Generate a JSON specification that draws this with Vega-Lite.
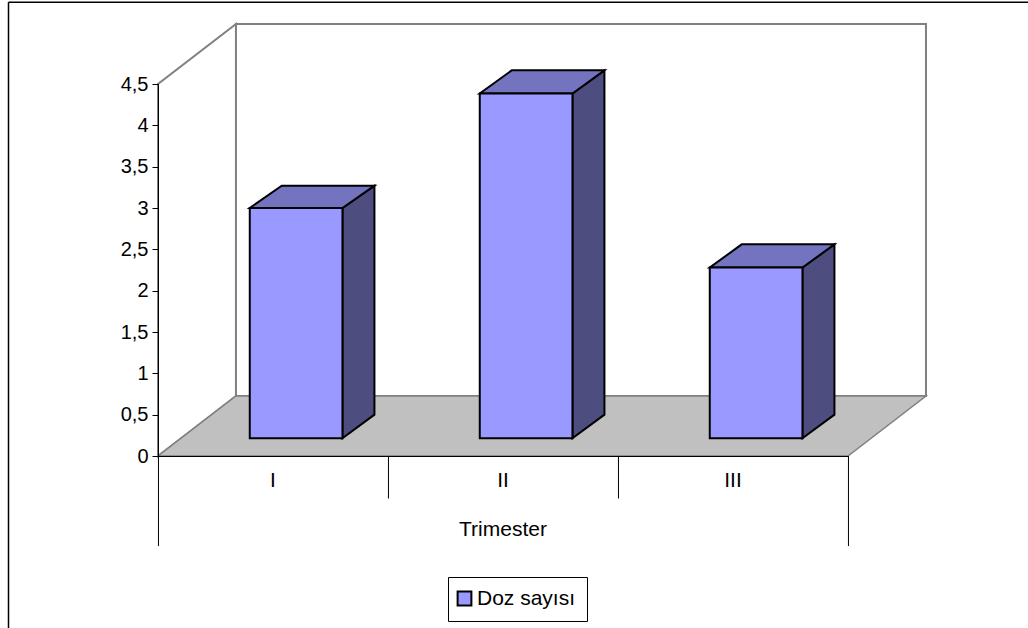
{
  "$schema": "https://vega.github.io/schema/vega-lite/v6.json",
  "autosize": "none",
  "width": 690,
  "height": 372,
  "padding": {"left": 158, "top": 84, "right": 180, "bottom": 172},
  "background": "white",
  "config": {"view": {"stroke": null}, "font": "Liberation Sans"},
  "datasets": {
    "walls": [
      {"id": "side", "x": 0, "low": 0, "high": 4.5},
      {"id": "side", "x": 0.339, "low": 0.726, "high": 5.226},
      {"id": "back", "x": 0.339, "low": 0.726, "high": 5.226},
      {"id": "back", "x": 3.339, "low": 0.726, "high": 5.226}
    ],
    "floor": [
      {"x": 0, "low": 0, "high": 0},
      {"x": 0.339, "low": 0, "high": 0.726},
      {"x": 3, "low": 0, "high": 0.726},
      {"x": 3.339, "low": 0.726, "high": 0.726}
    ],
    "bars": [
      {"trimester": "I", "series": "Doz sayısı", "x0": 0.399, "x1": 0.802, "base": 0.215, "value": 3.0},
      {"trimester": "II", "series": "Doz sayısı", "x0": 1.399, "x1": 1.802, "base": 0.215, "value": 4.385},
      {"trimester": "III", "series": "Doz sayısı", "x0": 2.399, "x1": 2.802, "base": 0.215, "value": 2.28}
    ],
    "barTops": [
      {"trimester": "I", "x": 0.399, "low": 3.0, "high": 3.0},
      {"trimester": "I", "x": 0.538, "low": 3.0, "high": 3.27},
      {"trimester": "I", "x": 0.802, "low": 3.0, "high": 3.27},
      {"trimester": "I", "x": 0.941, "low": 3.27, "high": 3.27},
      {"trimester": "II", "x": 1.399, "low": 4.385, "high": 4.385},
      {"trimester": "II", "x": 1.538, "low": 4.385, "high": 4.665},
      {"trimester": "II", "x": 1.802, "low": 4.385, "high": 4.665},
      {"trimester": "II", "x": 1.941, "low": 4.665, "high": 4.665},
      {"trimester": "III", "x": 2.399, "low": 2.28, "high": 2.28},
      {"trimester": "III", "x": 2.538, "low": 2.28, "high": 2.56},
      {"trimester": "III", "x": 2.802, "low": 2.28, "high": 2.56},
      {"trimester": "III", "x": 2.941, "low": 2.56, "high": 2.56}
    ],
    "barSides": [
      {"trimester": "I", "x": 0.802, "low": 0.215, "high": 3.0},
      {"trimester": "I", "x": 0.941, "low": 0.5, "high": 3.27},
      {"trimester": "II", "x": 1.802, "low": 0.215, "high": 4.385},
      {"trimester": "II", "x": 1.941, "low": 0.5, "high": 4.665},
      {"trimester": "III", "x": 2.802, "low": 0.215, "high": 2.28},
      {"trimester": "III", "x": 2.941, "low": 0.5, "high": 2.56}
    ],
    "separators": [
      {"x": 0.002, "top": 0, "bottom": -1.09},
      {"x": 1.002, "top": 0, "bottom": -0.514},
      {"x": 2.002, "top": 0, "bottom": -0.514},
      {"x": 3.002, "top": 0, "bottom": -1.09}
    ],
    "labels": [
      {"text": "I", "x": 0.5, "y": -0.305},
      {"text": "II", "x": 1.5, "y": -0.305},
      {"text": "III", "x": 2.5, "y": -0.305},
      {"text": "Trimester", "x": 1.5, "y": -0.89}
    ],
    "frameTop": [{"x0": -0.65, "x1": 3.8, "y": 5.49}],
    "frameLeft": [{"x": -0.65, "y0": 5.49, "y1": -2.1}],
    "baseline": [{"x0": 0, "x1": 3, "y": -0.006}]
  },
  "layer": [
    {
      "data": {"name": "frameTop"},
      "mark": {"type": "rule", "color": "black", "strokeWidth": 1.5},
      "encoding": {
        "x": {"field": "x0", "type": "quantitative", "scale": {"domain": [0, 3], "nice": false, "zero": false}, "axis": null},
        "x2": {"field": "x1"},
        "y": {
          "field": "y",
          "type": "quantitative",
          "scale": {"domain": [0, 4.5], "nice": false, "zero": false},
          "axis": {
            "title": null,
            "values": [0, 0.5, 1, 1.5, 2, 2.5, 3, 3.5, 4, 4.5],
            "grid": false,
            "labelExpr": "replace(toString(datum.value), '.', ',')",
            "labelFont": "Liberation Sans",
            "labelFontSize": 20,
            "labelColor": "black",
            "labelPadding": 4,
            "domainColor": "black",
            "tickColor": "black",
            "tickSize": 6,
            "zindex": 1
          }
        }
      }
    },
    {
      "data": {"name": "frameLeft"},
      "mark": {"type": "rule", "color": "black", "strokeWidth": 1.5},
      "encoding": {
        "x": {"field": "x", "type": "quantitative"},
        "y": {"field": "y0", "type": "quantitative"},
        "y2": {"field": "y1"}
      }
    },
    {
      "data": {"name": "walls"},
      "mark": {"type": "area", "fill": "white", "stroke": "#808080", "strokeWidth": 2},
      "encoding": {
        "x": {"field": "x", "type": "quantitative"},
        "y": {"field": "low", "type": "quantitative"},
        "y2": {"field": "high"},
        "detail": {"field": "id"}
      }
    },
    {
      "data": {"name": "floor"},
      "mark": {"type": "area", "fill": "#C0C0C0", "stroke": "#808080", "strokeWidth": 1.5},
      "encoding": {
        "x": {"field": "x", "type": "quantitative"},
        "y": {"field": "low", "type": "quantitative"},
        "y2": {"field": "high"}
      }
    },
    {
      "data": {"name": "baseline"},
      "mark": {"type": "rule", "color": "black", "strokeWidth": 1},
      "encoding": {
        "x": {"field": "x0", "type": "quantitative"},
        "x2": {"field": "x1"},
        "y": {"field": "y", "type": "quantitative"}
      }
    },
    {
      "data": {"name": "barSides"},
      "mark": {"type": "area", "fill": "#4D4D80", "stroke": "black", "strokeWidth": 2},
      "encoding": {
        "x": {"field": "x", "type": "quantitative"},
        "y": {"field": "low", "type": "quantitative"},
        "y2": {"field": "high"},
        "detail": {"field": "trimester"}
      }
    },
    {
      "data": {"name": "barTops"},
      "mark": {"type": "area", "fill": "#7373BF", "stroke": "black", "strokeWidth": 2},
      "encoding": {
        "x": {"field": "x", "type": "quantitative"},
        "y": {"field": "low", "type": "quantitative"},
        "y2": {"field": "high"},
        "detail": {"field": "trimester"}
      }
    },
    {
      "data": {"name": "bars"},
      "mark": {"type": "rect", "stroke": "black", "strokeWidth": 2},
      "encoding": {
        "x": {"field": "x0", "type": "quantitative"},
        "x2": {"field": "x1"},
        "y": {"field": "base", "type": "quantitative"},
        "y2": {"field": "value"},
        "color": {
          "field": "series",
          "type": "nominal",
          "scale": {"range": ["#9999FF"]},
          "legend": {
            "title": null,
            "orient": "none",
            "legendX": 290,
            "legendY": 493,
            "padding": 11,
            "strokeColor": "black",
            "fillColor": "white",
            "symbolType": "square",
            "symbolSize": 190,
            "symbolOffset": -5,
            "symbolStrokeColor": "black",
            "symbolStrokeWidth": 2,
            "labelOffset": 2,
            "labelFont": "Liberation Sans",
            "labelFontSize": 21,
            "labelColor": "black"
          }
        }
      }
    },
    {
      "data": {"name": "separators"},
      "mark": {"type": "rule", "color": "black", "strokeWidth": 1},
      "encoding": {
        "x": {"field": "x", "type": "quantitative"},
        "y": {"field": "top", "type": "quantitative"},
        "y2": {"field": "bottom"}
      }
    },
    {
      "data": {"name": "labels"},
      "mark": {"type": "text", "font": "Liberation Sans", "fontSize": 21, "color": "black", "align": "center", "baseline": "middle"},
      "encoding": {
        "x": {"field": "x", "type": "quantitative"},
        "y": {"field": "y", "type": "quantitative"},
        "text": {"field": "text"}
      }
    }
  ]
}
